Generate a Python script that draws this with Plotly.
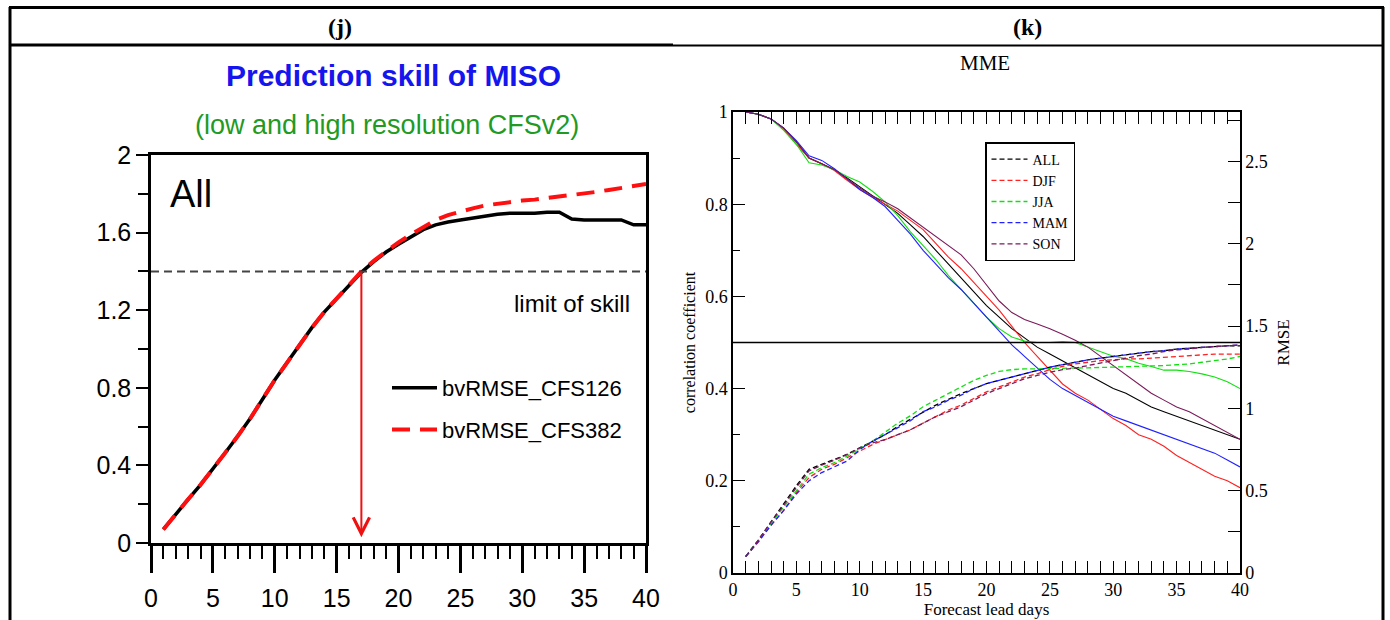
import plotly.graph_objects as go

W, H = 1390, 620

# ---------------- data: panel (j) ----------------
lead_j = list(range(1, 41))
rmse_cfs126 = [0.07, 0.15, 0.225, 0.30, 0.38, 0.465, 0.55, 0.64, 0.74, 0.84,
               0.93, 1.02, 1.11, 1.19, 1.26, 1.33, 1.395, 1.45, 1.50, 1.54,
               1.58, 1.615, 1.64, 1.655, 1.665, 1.675, 1.685, 1.695, 1.70, 1.70,
               1.70, 1.705, 1.705, 1.67, 1.665, 1.665, 1.665, 1.665, 1.64, 1.64]
rmse_cfs382 = [0.07, 0.15, 0.225, 0.30, 0.38, 0.465, 0.55, 0.64, 0.74, 0.84,
               0.93, 1.02, 1.11, 1.19, 1.26, 1.33, 1.40, 1.455, 1.505, 1.55,
               1.59, 1.63, 1.665, 1.69, 1.71, 1.725, 1.74, 1.75, 1.757, 1.765,
               1.77, 1.778, 1.785, 1.79, 1.80, 1.81, 1.82, 1.83, 1.845, 1.85]
skill_limit = 1.4
skill_day = 17

# ---------------- data: panel (k) ----------------
lead_k = list(range(1, 41))
cor_all = [1.0, 0.995, 0.985, 0.965, 0.935, 0.90, 0.888, 0.875, 0.857, 0.838,
           0.818, 0.80, 0.78, 0.755, 0.73, 0.70, 0.67, 0.64, 0.61, 0.58,
           0.555, 0.53, 0.51, 0.49, 0.475, 0.46, 0.445, 0.43, 0.415, 0.40,
           0.39, 0.375, 0.36, 0.35, 0.34, 0.33, 0.32, 0.31, 0.30, 0.29]
cor_djf = [1.0, 0.995, 0.985, 0.963, 0.93, 0.90, 0.888, 0.873, 0.852, 0.832,
           0.815, 0.80, 0.785, 0.765, 0.745, 0.715, 0.685, 0.66, 0.63, 0.60,
           0.57, 0.535, 0.50, 0.47, 0.44, 0.41, 0.39, 0.375, 0.355, 0.335,
           0.32, 0.30, 0.29, 0.275, 0.255, 0.24, 0.225, 0.21, 0.20, 0.185]
cor_jja = [1.0, 0.995, 0.985, 0.96, 0.93, 0.89, 0.885, 0.875, 0.86, 0.848,
           0.828, 0.805, 0.775, 0.74, 0.71, 0.68, 0.645, 0.615, 0.585, 0.555,
           0.53, 0.512, 0.503, 0.50, 0.50, 0.502, 0.50, 0.49, 0.48, 0.47,
           0.465, 0.455, 0.448, 0.44, 0.44, 0.437, 0.432, 0.425, 0.415, 0.40]
cor_mam = [1.0, 0.995, 0.985, 0.965, 0.938, 0.905, 0.895, 0.877, 0.855, 0.832,
           0.815, 0.795, 0.765, 0.735, 0.70, 0.67, 0.64, 0.615, 0.585, 0.555,
           0.525, 0.495, 0.47, 0.445, 0.42, 0.40, 0.385, 0.37, 0.355, 0.34,
           0.33, 0.32, 0.31, 0.30, 0.29, 0.28, 0.27, 0.26, 0.245, 0.23]
cor_son = [1.0, 0.995, 0.985, 0.965, 0.935, 0.90, 0.888, 0.875, 0.855, 0.835,
           0.818, 0.805, 0.79, 0.77, 0.75, 0.73, 0.71, 0.69, 0.66, 0.625,
           0.59, 0.565, 0.55, 0.54, 0.53, 0.518, 0.505, 0.49, 0.47, 0.45,
           0.43, 0.41, 0.39, 0.375, 0.36, 0.35, 0.335, 0.32, 0.305, 0.29]

rmse_all = [0.10, 0.20, 0.31, 0.42, 0.53, 0.63, 0.66, 0.69, 0.72, 0.76,
            0.80, 0.84, 0.89, 0.935, 0.98, 1.02, 1.055, 1.09, 1.12, 1.15,
            1.17, 1.19, 1.21, 1.23, 1.25, 1.265, 1.28, 1.295, 1.305, 1.315,
            1.325, 1.335, 1.345, 1.35, 1.36, 1.365, 1.37, 1.375, 1.38, 1.38]
rmse_djf = [0.10, 0.19, 0.29, 0.38, 0.49, 0.58, 0.63, 0.66, 0.70, 0.74,
            0.78, 0.81, 0.84, 0.87, 0.91, 0.95, 0.99, 1.02, 1.06, 1.10,
            1.13, 1.16, 1.19, 1.21, 1.235, 1.255, 1.27, 1.28, 1.29, 1.295,
            1.30, 1.30, 1.305, 1.31, 1.315, 1.32, 1.325, 1.33, 1.33, 1.33]
rmse_jja = [0.10, 0.20, 0.30, 0.40, 0.50, 0.60, 0.64, 0.67, 0.71, 0.755,
            0.80, 0.855, 0.91, 0.955, 1.01, 1.05, 1.09, 1.13, 1.17, 1.20,
            1.225, 1.235, 1.24, 1.24, 1.243, 1.245, 1.245, 1.246, 1.248, 1.25,
            1.252, 1.254, 1.256, 1.26, 1.265, 1.27, 1.28, 1.29, 1.30, 1.315]
rmse_mam = [0.10, 0.19, 0.29, 0.38, 0.48, 0.56, 0.61, 0.645, 0.68, 0.75,
            0.80, 0.84, 0.885, 0.925, 0.98, 1.01, 1.05, 1.08, 1.12, 1.15,
            1.17, 1.19, 1.21, 1.23, 1.25, 1.265, 1.28, 1.295, 1.305, 1.315,
            1.325, 1.335, 1.345, 1.35, 1.36, 1.365, 1.37, 1.375, 1.38, 1.385]
rmse_son = [0.10, 0.20, 0.31, 0.41, 0.52, 0.62, 0.655, 0.685, 0.72, 0.76,
            0.79, 0.81, 0.84, 0.87, 0.91, 0.95, 0.98, 1.01, 1.05, 1.09,
            1.12, 1.15, 1.18, 1.20, 1.22, 1.235, 1.245, 1.26, 1.275, 1.29,
            1.305, 1.32, 1.33, 1.345, 1.355, 1.36, 1.37, 1.375, 1.38, 1.385]
cor_threshold = 0.5

season_names = ["ALL", "DJF", "JJA", "MAM", "SON"]
season_colors = ["#000000", "#ff2020", "#10e010", "#2020ff", "#7a1a5a"]
cor_series = [cor_all, cor_djf, cor_jja, cor_mam, cor_son]
rmse_series = [rmse_all, rmse_djf, rmse_jja, rmse_mam, rmse_son]


def px(v):
    return v / W


def py(v):
    return 1 - v / H


SANS = "Liberation Sans, Arial, sans-serif"
SERIF = "Liberation Serif, Times New Roman, serif"

fig = go.Figure()

# ---- panel (j) traces ----
fig.add_trace(go.Scatter(x=lead_j, y=rmse_cfs126, mode="lines", name="bvRMSE_CFS126",
                         line=dict(color="black", width=3.5), xaxis="x", yaxis="y",
                         legend="legend", legendgroup="a"))
fig.add_trace(go.Scatter(x=lead_j, y=rmse_cfs382, mode="lines", name="bvRMSE_CFS382",
                         line=dict(color="#ff1010", width=4, dash="18px,10px"),
                         xaxis="x", yaxis="y", legend="legend", legendgroup="b"))

# ---- panel (k) traces ----
for nm, col, cs in zip(season_names, season_colors, cor_series):
    fig.add_trace(go.Scatter(x=lead_k, y=cs, mode="lines", name=nm, showlegend=False,
                             line=dict(color=col, width=1.1), xaxis="x2", yaxis="y2"))
for nm, col, rs in zip(season_names, season_colors, rmse_series):
    fig.add_trace(go.Scatter(x=lead_k, y=rs, mode="lines", name=nm,
                             line=dict(color=col, width=1.3, dash="5px,3px"),
                             xaxis="x2", yaxis="y3", legend="legend2"))

shapes = []
shapes.append(dict(type="line", xref="x domain", yref="y", x0=0, x1=1,
                   y0=skill_limit, y1=skill_limit,
                   line=dict(color="#444444", width=2, dash="8px,5px")))
shapes.append(dict(type="line", xref="x2 domain", yref="y2", x0=0, x1=1,
                   y0=cor_threshold, y1=cor_threshold,
                   line=dict(color="black", width=1.5)))
frame = dict(type="line", xref="paper", yref="paper", line=dict(color="black", width=3))
shapes += [
    dict(frame, x0=px(9), x1=px(1384), y0=py(7.5), y1=py(7.5)),
    dict(frame, x0=px(10), x1=px(10), y0=py(7), y1=py(621)),
    dict(frame, x0=px(1383), x1=px(1383), y0=py(7), y1=py(621)),
    dict(frame, x0=px(10), x1=px(673), y0=py(45), y1=py(45)),
    dict(type="line", xref="paper", yref="paper", x0=px(673), x1=px(1383),
         y0=py(45.5), y1=py(45.5), line=dict(color="black", width=2)),
]


def label(text, x, y, size, family, color="black", xanchor="center"):
    return dict(text=text, x=px(x), y=py(y), xref="paper", yref="paper",
                xanchor=xanchor, yanchor="middle", showarrow=False,
                font=dict(family=family, size=size, color=color))


annotations = [
    label("<b>(j)</b>", 340, 27, 24, SERIF),
    label("<b>(k)</b>", 1027, 27, 24, SERIF),
    label("MME", 985, 63, 21, SERIF),
    label("<b>Prediction skill of MISO</b>", 393, 76, 30, SANS, "#1515ee"),
    label("(low and high resolution CFSv2)", 387, 125, 27, SANS, "#229a22"),
    label("All", 168, 194, 38, SANS, xanchor="left"),
    label("limit of skill", 632, 303, 24, SANS, xanchor="right"),
    dict(text="", x=skill_day, y=0.03, ax=skill_day, ay=skill_limit, xref="x", yref="y",
         axref="x", ayref="y", showarrow=True, arrowhead=5, arrowsize=1.6, arrowwidth=2,
         arrowcolor="#ee1111", standoff=0, startstandoff=0),
]

fig.update_layout(
    template="none",
    width=W, height=H, margin=dict(l=0, r=0, t=0, b=0, pad=0, autoexpand=False),
    paper_bgcolor="white", plot_bgcolor="white",
    shapes=shapes, annotations=annotations,
    xaxis=dict(domain=[px(151), px(646)], anchor="y", range=[0, 40], dtick=5, tick0=0,
               automargin=False,
               ticks="outside", ticklen=27, tickwidth=2.5, tickcolor="black",
               minor=dict(dtick=1, ticks="outside", ticklen=13, tickwidth=2, tickcolor="black",
                          showgrid=False),
               showline=True, linewidth=2.5, linecolor="black", mirror=True,
               showgrid=False, zeroline=False, ticklabelstandoff=4,
               tickfont=dict(family=SANS, size=25, color="black")),
    yaxis=dict(domain=[py(543), py(155)], anchor="x", range=[0, 2], dtick=0.4, tick0=0,
               automargin=False,
               ticks="outside", ticklen=12, tickwidth=2, tickcolor="black",
               minor=dict(dtick=0.2, ticks="outside", ticklen=10, tickwidth=2, tickcolor="black",
                          showgrid=False),
               showline=True, linewidth=2.5, linecolor="black", mirror=True,
               showgrid=False, zeroline=False,
               tickfont=dict(family=SANS, size=25, color="black")),
    xaxis2=dict(domain=[px(733), px(1240)], anchor="y2", range=[0, 40], dtick=5, tick0=0,
                automargin=False,
                ticks="inside", ticklen=12, tickwidth=1, tickcolor="black",
                minor=dict(dtick=1, ticks="inside", ticklen=7, tickwidth=1, tickcolor="black",
                           showgrid=False),
                showline=True, linewidth=1.5, linecolor="black", mirror="allticks",
                showgrid=False, zeroline=False,
                tickfont=dict(family=SERIF, size=18, color="black"),
                title=dict(text="Forecast lead days", standoff=0,
                           font=dict(family=SERIF, size=17, color="black"))),
    yaxis2=dict(domain=[py(573), py(112)], anchor="x2", range=[0, 1], dtick=0.2, tick0=0,
                automargin=False,
                ticks="inside", ticklen=12, tickwidth=1, tickcolor="black",
                minor=dict(dtick=0.1, ticks="inside", ticklen=7, tickwidth=1, tickcolor="black",
                           showgrid=False),
                showline=True, linewidth=1.5, linecolor="black",
                showgrid=False, zeroline=False,
                tickfont=dict(family=SERIF, size=18, color="black"),
                title=dict(text="correlation coefficient", standoff=6,
                           font=dict(family=SERIF, size=16, color="black"))),
    yaxis3=dict(overlaying="y2", anchor="x2", side="right", range=[0, 2.8], dtick=0.5, tick0=0,
                automargin=False,
                ticks="inside", ticklen=12, tickwidth=1, tickcolor="black",
                minor=dict(dtick=0.25, ticks="inside", ticklen=12, tickwidth=1, tickcolor="black",
                           showgrid=False),
                showline=True, linewidth=1.5, linecolor="black",
                showgrid=False, zeroline=False,
                tickfont=dict(family=SERIF, size=18, color="black"),
                title=dict(text="RMSE", standoff=10,
                           font=dict(family=SERIF, size=17, color="black"))),
    legend=dict(x=px(387), y=py(367), xanchor="left", yanchor="top",
                bgcolor="rgba(0,0,0,0)", borderwidth=0, tracegroupgap=10,
                itemwidth=45, font=dict(family=SANS, size=22, color="black")),
    legend2=dict(x=px(985), y=py(142), xanchor="left", yanchor="top",
                 bgcolor="white", bordercolor="black", borderwidth=1.5,
                 itemwidth=36, entrywidth=58,
                 font=dict(family=SERIF, size=14, color="black")),
)

fig.write_html(
    "out.html",
    config={"displayModeBar": False},
    post_script="document.body.style.margin='0px';document.body.style.padding='0px';"
                "document.documentElement.style.overflow='hidden';",
)
